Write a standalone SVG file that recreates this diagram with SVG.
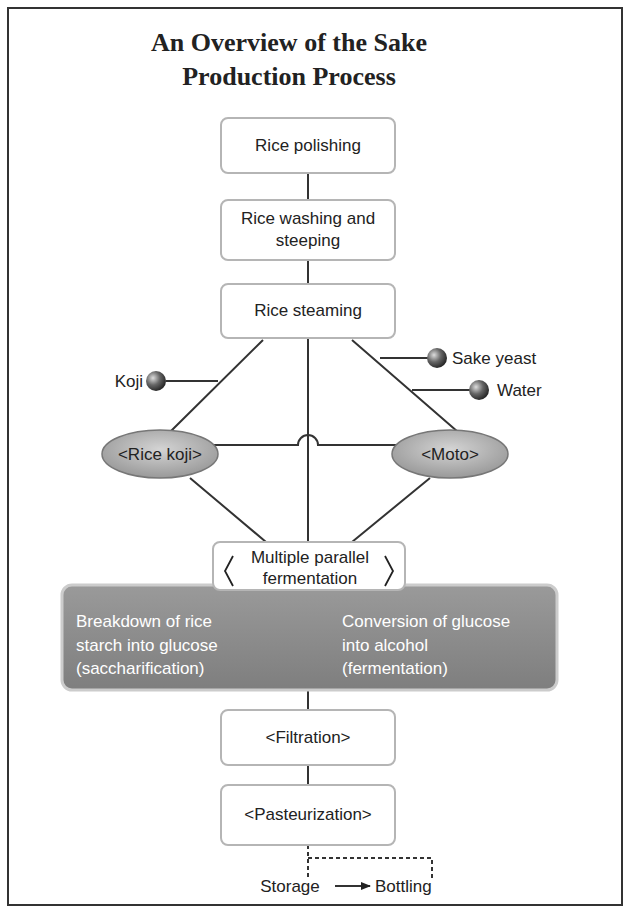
<svg xmlns="http://www.w3.org/2000/svg" width="630" height="913" viewBox="0 0 630 913">
<defs>
<style>
.t{font-family:"Liberation Sans",Arial,sans-serif;font-size:17px;fill:#222}
.w{font-family:"Liberation Sans",Arial,sans-serif;font-size:17px;fill:#fff}
.box{fill:#fff;stroke:#b5b5b5;stroke-width:2}
.ln{stroke:#333;stroke-width:2;fill:none}
</style>
<radialGradient id="ball" cx="0.35" cy="0.35" r="0.7"><stop offset="0" stop-color="#ddd"/><stop offset="0.5" stop-color="#666"/><stop offset="1" stop-color="#222"/></radialGradient>
<radialGradient id="ell" cx="0.5" cy="0.4" r="0.6"><stop offset="0" stop-color="#d4d4d4"/><stop offset="1" stop-color="#999"/></radialGradient>
<linearGradient id="grey" x1="0" y1="0" x2="0" y2="1"><stop offset="0" stop-color="#9a9a9a"/><stop offset="1" stop-color="#7e7e7e"/></linearGradient>
<marker id="arr" markerWidth="10" markerHeight="8" refX="9" refY="4" orient="auto" markerUnits="userSpaceOnUse"><path d="M0,0 L10,4 L0,8 Z" fill="#222"/></marker>
</defs>
<rect x="0" y="0" width="630" height="913" fill="#fff"/>
<rect x="8" y="8" width="614" height="897" fill="#fff" stroke="#333" stroke-width="2"/>
<g id="title" font-family="'Liberation Serif',serif" font-size="26" font-weight="bold" fill="#222" text-anchor="middle">
<text x="289" y="51">An Overview of the Sake</text>
<text x="289" y="85">Production Process</text>
</g>
<g id="connectors">
<path class="ln" d="M308,173 V200 M308,260 V284 M308,338 V542"/>
<path class="ln" d="M263,340 L170,432 M352,340 L458,432"/>
<path class="ln" d="M166,381 H218 M380,358 H428 M412,390 H470"/>
<path class="ln" d="M212,445 H298 A10,10 0 0 1 318,445 H400"/>
<path class="ln" d="M190,478 L266,542 M430,478 L352,542"/>
<path class="ln" d="M308,690 V710 M308,765 V785"/>
<path class="ln" stroke-dasharray="4,3" d="M308,845 V878 M308,858 H432 V878"/>
<path class="ln" d="M335,886 H370" marker-end="url(#arr)"/>
</g>
<g id="polishing"><rect class="box" x="221" y="118" width="174" height="55" rx="7"/><text class="t" x="308" y="151" text-anchor="middle">Rice polishing</text></g>
<g id="washing"><rect class="box" x="221" y="200" width="174" height="60" rx="7"/><text class="t" x="308" y="224" text-anchor="middle">Rice washing and</text><text class="t" x="308" y="246" text-anchor="middle">steeping</text></g>
<g id="steaming"><rect class="box" x="221" y="284" width="174" height="54" rx="7"/><text class="t" x="308" y="316" text-anchor="middle">Rice steaming</text></g>
<g id="koji"><text class="t" x="143" y="387" text-anchor="end">Koji</text><circle cx="156" cy="381" r="10" fill="url(#ball)"/></g>
<g id="yeast"><circle cx="437" cy="358" r="10" fill="url(#ball)"/><text class="t" x="452" y="364">Sake yeast</text></g>
<g id="water"><circle cx="479" cy="390" r="10" fill="url(#ball)"/><text class="t" x="497" y="396">Water</text></g>
<g id="ricekoji"><ellipse cx="160" cy="454" rx="58" ry="24" fill="url(#ell)" stroke="#777" stroke-width="1.5"/><text class="t" x="160" y="460" text-anchor="middle">&lt;Rice koji&gt;</text></g>
<g id="moto"><ellipse cx="450" cy="454" rx="58" ry="24" fill="url(#ell)" stroke="#777" stroke-width="1.5"/><text class="t" x="450" y="460" text-anchor="middle">&lt;Moto&gt;</text></g>
<g id="process"><rect x="62" y="585" width="495" height="105" rx="10" fill="url(#grey)" stroke="#ccc" stroke-width="3"/>
<text class="w" x="76" y="627">Breakdown of rice</text><text class="w" x="76" y="651">starch into glucose</text><text class="w" x="76" y="674">(saccharification)</text>
<text class="w" x="342" y="627">Conversion of glucose</text><text class="w" x="342" y="651">into alcohol</text><text class="w" x="342" y="674">(fermentation)</text></g>
<g id="mpf"><rect class="box" x="213" y="542" width="192" height="48" rx="7"/>
<text class="t" x="310" y="563" text-anchor="middle">Multiple parallel</text><text class="t" x="310" y="584" text-anchor="middle">fermentation</text>
<path d="M233,556 L225,571 L233,586 M385,556 L393,571 L385,586" stroke="#222" stroke-width="1.8" fill="none"/></g>
<g id="filtration"><rect class="box" x="221" y="710" width="174" height="55" rx="7"/><text class="t" x="308" y="743" text-anchor="middle">&lt;Filtration&gt;</text></g>
<g id="pasteurization"><rect class="box" x="221" y="785" width="174" height="60" rx="7"/><text class="t" x="308" y="820" text-anchor="middle">&lt;Pasteurization&gt;</text></g>
<g id="storage"><text class="t" x="290" y="892" text-anchor="middle">Storage</text></g>
<g id="bottling"><text class="t" x="375" y="892">Bottling</text></g>
</svg>
